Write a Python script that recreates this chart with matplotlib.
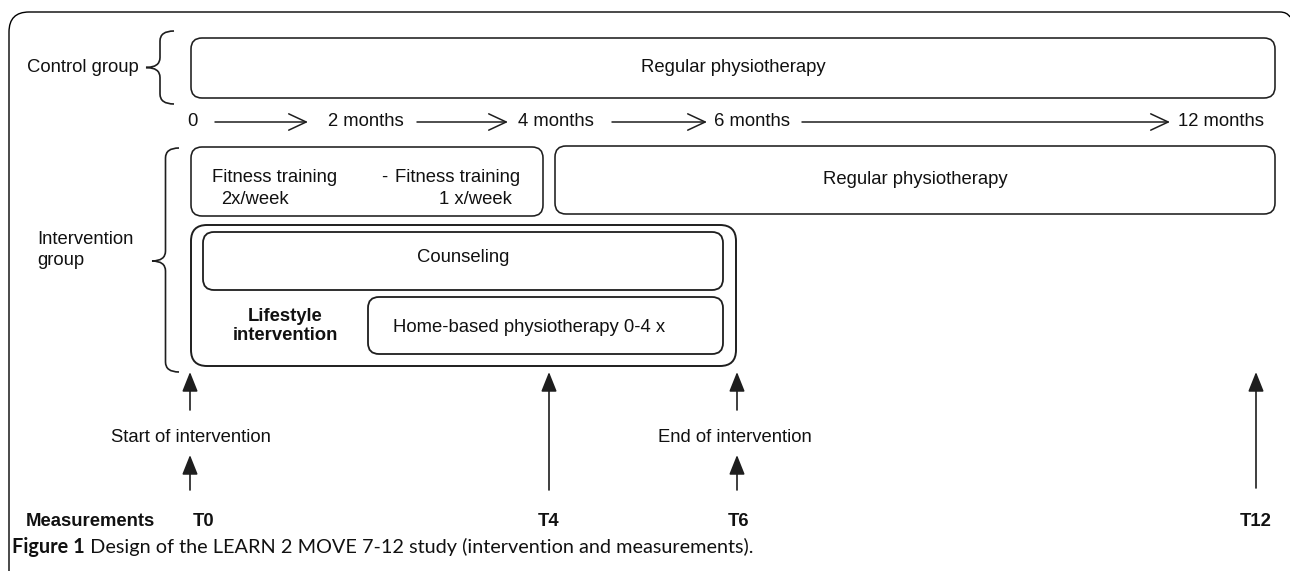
import matplotlib
matplotlib.use("Agg")
import matplotlib.pyplot as plt
from matplotlib.patches import FancyBboxPatch, PathPatch
from matplotlib.path import Path

# ---------------- data (text content) ----------------
timeline_labels = ["0", "2 months", "4 months", "6 months", "12 months"]
group_labels = ["Control group", "Intervention\ngroup"]
control_box_label = "Regular physiotherapy"
fitness_left = ["Fitness training", "2x/week"]
fitness_right = ["Fitness training", "1 x/week"]
regular_label = "Regular physiotherapy"
counseling_label = "Counseling"
lifestyle_label = "Lifestyle\nintervention"
home_label = "Home-based physiotherapy 0-4 x"
event_labels = ["Start of intervention", "End of intervention"]
measure_title = "Measurements"
measure_labels = ["T0", "T4", "T6", "T12"]
caption_bold = "Figure 1"
caption_rest = " Design of the LEARN 2 MOVE 7-12 study (intervention and measurements)."

# ---------------- layout (pixel coordinates) ----------------
W, H = 1290, 571
FONT = "Liberation Sans"
FS = 13.3
LC = "#1e1e1e"
TC = "#111111"

fig = plt.figure(figsize=(W / 100, H / 100), dpi=100)
ax = fig.add_axes([0, 0, 1, 1])
ax.set_xlim(0, W)
ax.set_ylim(H, 0)
ax.axis("off")


def rbox(x0, y0, x1, y1, r=11, lw=1.15):
    p = FancyBboxPatch((x0, y0), x1 - x0, y1 - y0,
                       boxstyle=f"round,pad=0,rounding_size={r}",
                       fc="none", ec=LC, lw=lw)
    ax.add_patch(p)


def txt(x, y, s, ha="center", bold=False, fs=FS, family=FONT, **kw):
    return ax.text(x, y, s, ha=ha, va="center", fontsize=fs, family=family,
                   fontweight="bold" if bold else "normal", color=TC, **kw)


def brace(x_tip, x_end, y_top, y_bot, y_mid=None, lw=1.2):
    if y_mid is None:
        y_mid = (y_top + y_bot) / 2
    xs = (x_tip + x_end) / 2
    r = 10
    verts = [(x_end, y_top), (xs, y_top), (xs, y_top + r),
             (xs, y_mid - r),
             (xs, y_mid), (x_tip, y_mid),
             (xs, y_mid), (xs, y_mid + r),
             (xs, y_bot - r),
             (xs, y_bot), (x_end, y_bot)]
    codes = [Path.MOVETO, Path.CURVE3, Path.CURVE3,
             Path.LINETO,
             Path.CURVE3, Path.CURVE3,
             Path.CURVE3, Path.CURVE3,
             Path.LINETO,
             Path.CURVE3, Path.CURVE3]
    ax.add_patch(PathPatch(Path(verts, codes), fc="none", ec=LC, lw=lw))


def harrow(x0, x1, y):
    ax.annotate("", xy=(x1, y), xytext=(x0, y),
                arrowprops=dict(arrowstyle="->,head_length=0.9,head_width=0.42",
                                lw=1.1, color=LC, mutation_scale=14,
                                shrinkA=0, shrinkB=0))


def varrow(x, y0, y1):
    ax.annotate("", xy=(x, y1), xytext=(x, y0),
                arrowprops=dict(arrowstyle="-|>,head_length=0.75,head_width=0.3",
                                lw=1.2, color=LC, mutation_scale=16,
                                shrinkA=0, shrinkB=0))


# outer frame (top + left edge with rounded corner)
frame = Path([(9, H), (9, 32), (9, 12), (29, 12), (1280, 12), (1287, 12), (1290, 17)],
             [Path.MOVETO, Path.LINETO, Path.CURVE3, Path.CURVE3, Path.LINETO,
              Path.CURVE3, Path.CURVE3])
ax.add_patch(PathPatch(frame, fc="none", ec="#000000", lw=1.0))

# control group
txt(27, 68, group_labels[0], ha="left")
brace(146, 174, 31, 104)
rbox(191, 38, 1275, 98)
txt(733, 68, control_box_label)

# timeline
tl_y = 122
tl_x = [192, 366, 556, 752, 1221]
for s, x in zip(timeline_labels, tl_x):
    txt(x, tl_y, s)
arrow_spans = [(215, 308), (417, 508), (612, 707), (802, 1170)]
for a, b in arrow_spans:
    harrow(a, b, tl_y)

# intervention group
txt(37, 250, group_labels[1], ha="left", linespacing=1.25)
brace(152, 179, 148, 372, 261)

# fitness box
rbox(191, 147, 543, 216)
txt(212, 177, fitness_left[0], ha="left")
txt(221, 199, fitness_left[1], ha="left")
txt(384, 177, "-")
txt(520, 177, fitness_right[0], ha="right")
txt(512, 199, fitness_right[1], ha="right")

# regular physiotherapy (intervention)
rbox(555, 146, 1275, 214)
txt(915, 180, regular_label)

# lifestyle intervention
rbox(191, 225, 736, 366, r=16, lw=1.4)
rbox(203, 232, 723, 290, r=11, lw=1.3)
txt(463, 257, counseling_label)
rbox(368, 297, 723, 354, r=11, lw=1.3)
txt(393, 327, home_label, ha="left")
txt(285, 326, lifestyle_label, bold=True, linespacing=1.1)

# measurement arrows
mx = [190, 549, 737, 1256]
varrow(mx[0], 410, 372)
varrow(mx[0], 490, 455)
varrow(mx[1], 490, 372)
varrow(mx[2], 410, 372)
varrow(mx[2], 490, 455)
varrow(mx[3], 488, 372)

txt(191, 437, event_labels[0])
txt(735, 437, event_labels[1])

txt(26, 522, measure_title, ha="left", bold=True)
for s, x in zip(measure_labels, [204, 549, 738, 1256]):
    txt(x, 522, s, bold=True)

# caption: fitted so that it spans x = 12 .. 752
cap_fam = "Lato"
cap_fs = 13.0
fig.canvas.draw()
r = fig.canvas.get_renderer()
for _ in range(2):
    t1 = ax.text(12, 547, caption_bold, ha="left", va="center", fontsize=cap_fs,
                 family=cap_fam, fontweight="bold", color=TC)
    bb = t1.get_window_extent(renderer=r)
    t2 = ax.text(bb.x1, H - 547, caption_rest, ha="left", va="center",
                 fontsize=cap_fs, family=cap_fam, color=TC, transform=None)
    bb2 = t2.get_window_extent(renderer=r)
    width = bb2.x1 - 12
    t1.remove()
    t2.remove()
    cap_fs = cap_fs * (740 / width)
t1 = ax.text(12, 547, caption_bold, ha="left", va="center", fontsize=cap_fs,
             family=cap_fam, fontweight="bold", color=TC)
bb = t1.get_window_extent(renderer=r)
ax.text(bb.x1, H - 547, caption_rest, ha="left", va="center",
        fontsize=cap_fs, family=cap_fam, color=TC, transform=None)

fig.savefig("out.png", dpi=100, facecolor="white")
